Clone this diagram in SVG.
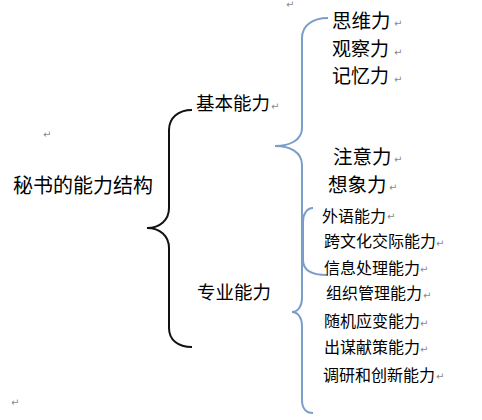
<svg xmlns="http://www.w3.org/2000/svg" width="482" height="420" viewBox="0 0 482 420">
<style>
text{font-family:"Noto Sans CJK SC","Noto Sans",sans-serif;fill:#000}
.t20{font-size:19.5px}
.t18{font-size:18.5px}
.t16{font-size:16px}
.pm{font-family:"DejaVu Sans",sans-serif;font-size:10px;fill:#8a8a8a}
.bk{fill:none;stroke:#111;stroke-width:2}
.bl{fill:none;stroke:#7b9dc9;stroke-width:2}
</style>
<rect width="482" height="420" fill="#fff"/>
<g id="connectors">
<path class="bk" d="M192,110 C178,110 169,118 169,130 V208 C169,220 160,228 147,228 C160,228 169,236 169,248 V328 C169,340 178,347 192,347"/>
<path class="bl" d="M328,18 C312,18 302,26 302,38 V128 C302,140 290,146 275,146 C290,146 302,152 302,165 V298 C302,306 298,312 292,312 C298,312 302,318 302,326 V400 C302,408 306,413 313,413"/>
<path class="bl" d="M313,208 C307,208 303,214 303,222 V260 C303,270 312,275 327,275"/>
</g>
<g id="marks">
<text class="pm" x="286" y="8">↵</text>
<text class="pm" x="43" y="138">↵</text>
<text class="pm" x="11" y="406">↵</text>
</g>
<g id="root"><text class="t20" x="13" y="193" style="font-size:20px">秘书的能力结构</text></g>
<g id="basic"><text class="t18" x="196" y="110">基本能力</text><text class="pm" x="271" y="110">↵</text></g>
<g id="professional"><text class="t18" x="197" y="298.5">专业能力</text></g>
<g id="n1"><text class="t20" x="332" y="28">思维力</text><text class="pm" x="394" y="27">↵</text></g>
<g id="n2"><text class="t20" x="332" y="56" style="font-size:19px">观察力</text><text class="pm" x="394" y="56">↵</text></g>
<g id="n3"><text class="t20" x="332" y="83" style="font-size:19px">记忆力</text><text class="pm" x="394" y="83">↵</text></g>
<g id="n4"><text class="t20" x="333" y="163.5">注意力</text><text class="pm" x="394" y="163">↵</text></g>
<g id="n5"><text class="t20" x="328" y="191.5">想象力</text><text class="pm" x="389" y="191">↵</text></g>
<g id="p1"><text class="t16" x="322" y="221.5">外语能力</text><text class="pm" x="387" y="220">↵</text></g>
<g id="p2"><text class="t16" x="324" y="247">跨文化交际能力</text><text class="pm" x="436" y="247">↵</text></g>
<g id="p3"><text class="t16" x="324" y="273.5">信息处理能力</text><text class="pm" x="420" y="273">↵</text></g>
<g id="p4"><text class="t16" x="326" y="299">组织管理能力</text><text class="pm" x="423" y="299">↵</text></g>
<g id="p5"><text class="t16" x="324" y="327">随机应变能力</text><text class="pm" x="420" y="327">↵</text></g>
<g id="p6"><text class="t16" x="324" y="353">出谋献策能力</text><text class="pm" x="420" y="353">↵</text></g>
<g id="p7"><text class="t16" x="323" y="380.5">调研和创新能力</text><text class="pm" x="436" y="380">↵</text></g>
</svg>
